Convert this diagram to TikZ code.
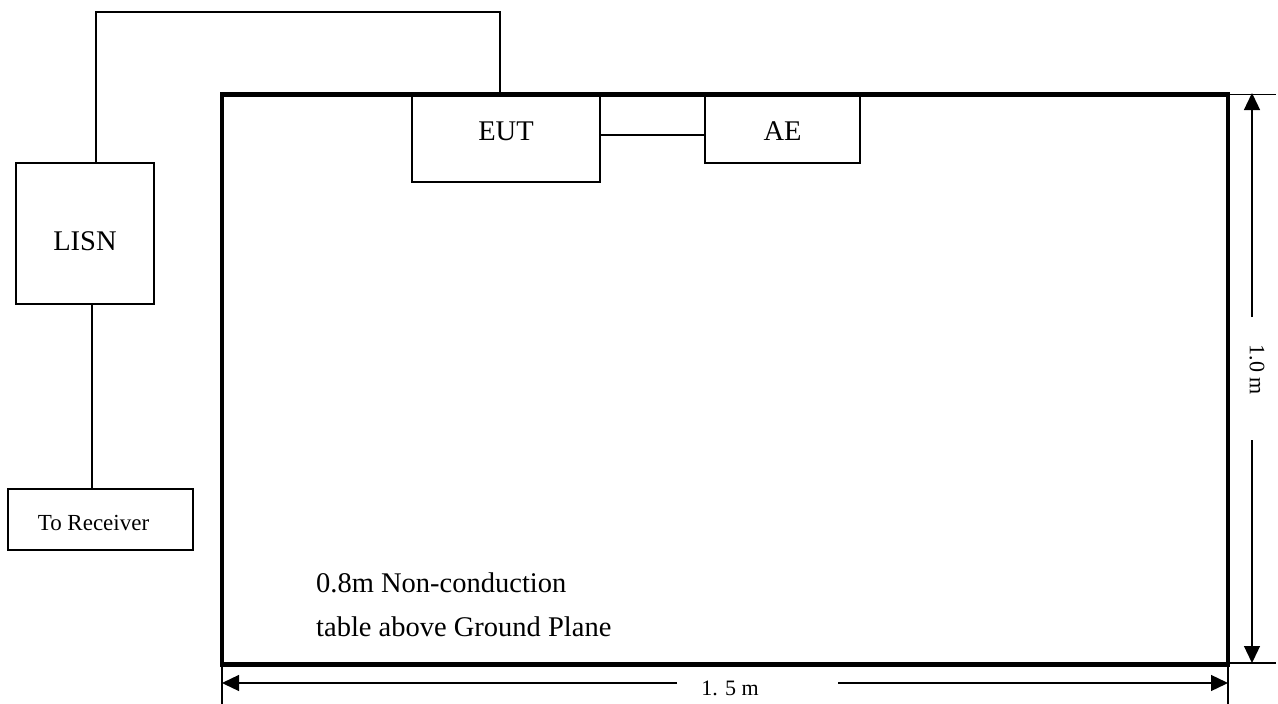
\documentclass[tikz,border=0pt]{standalone}
\usepackage{fontspec}
\setmainfont{Liberation Serif}
\usetikzlibrary{arrows.meta}
\begin{document}
\begin{tikzpicture}[x=1pt,y=-1pt,
  box/.style={draw, line width=1.7pt, inner sep=0pt, outer sep=0pt},
  lbl/.style={font=\fontsize{28.5}{34}\selectfont},
  small/.style={font=\fontsize{23}{28}\selectfont},
  dimtxt/.style={font=\fontsize{22}{26}\selectfont},
  wire/.style={line width=1.7pt},
  dimline/.style={line width=1.3pt},
  tip/.style={-{Triangle[length=17pt,width=16pt]}}]
\useasboundingbox (0,0) rectangle (1278,704);
% table
\node[draw, line width=4.5pt, inner sep=0pt, outer sep=0pt,
      minimum width=1006pt, minimum height=570pt] (table) at (725,379.5) {};
% boxes
\node[box, minimum width=188pt, minimum height=86pt,
      label={[lbl, yshift=8pt]center:EUT}] (eut) at (506,139) {};
\node[box, minimum width=155pt, minimum height=67pt,
      label={[lbl, yshift=-1.5pt]center:AE}] (ae) at (782.5,129.5) {};
\node[box, minimum width=138pt, minimum height=141pt,
      label={[lbl, yshift=-8pt]center:LISN}] (lisn) at (85,233.5) {};
\node[box, minimum width=185pt, minimum height=61pt,
      label={[small, xshift=-7pt, yshift=-3pt]center:To Receiver}] (receiver) at (100.5,519.5) {};
% connectors
\draw[wire] ([yshift=4pt]eut.east) -- ([yshift=4pt]eut.east -| ae.west);
\draw[wire] ([xshift=-6pt]eut.north) |- ([xshift=11pt]lisn.north |- 0,12) -- ([xshift=11pt]lisn.north);
\draw[wire] ([xshift=7pt]lisn.south) -- ([xshift=7pt]lisn.south |- receiver.north);
% note text
\node[lbl, anchor=base west, inner sep=0pt] (note1) at (316,592) {0.8m Non-conduction};
\node[lbl, anchor=base west, inner sep=0pt] (note2) at (316,636) {table above Ground Plane};
% vertical dimension
\coordinate (vtop) at (1276,93);
\coordinate (vbot) at (1276,663);
\draw[dimline] (table.north east) -- (table.north east -| vtop);
\draw[dimline] (vbot -| table.east) -- (vbot);
\coordinate (va) at (1252,317);
\coordinate (vb) at (1252,440);
\draw[dimline, tip] (va) -- (va |- vtop);
\draw[dimline, tip] (vb) -- (vb |- vbot);
\node[dimtxt, rotate=-90] (vlabel) at (1257,370) {1.0 m};
% horizontal dimension
\coordinate (hl) at (222,704);
\coordinate (hr) at (1228,704);
\draw[dimline] (table.south west) -- (hl);
\draw[dimline] (table.south east) -- (hr);
\coordinate (ha) at (677,683);
\coordinate (hb) at (838,683);
\draw[dimline, tip] (ha) -- (ha -| hl);
\draw[dimline, tip] (hb) -- (hb -| hr);
\node[dimtxt] (hlabel) at (730,688) {1. 5 m};
\end{tikzpicture}
\end{document}
